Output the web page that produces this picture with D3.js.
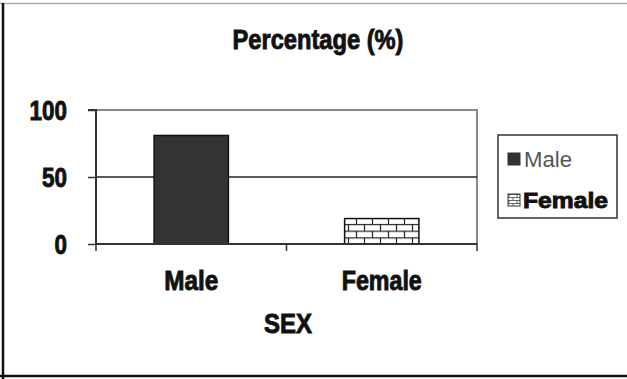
<!DOCTYPE html>
<html>
<head>
<meta charset="utf-8">
<script src="https://cdn.jsdelivr.net/npm/d3@7"></script>
<style>
  html, body { margin: 0; padding: 0; background: #fff; }
  svg { display: block; }
  text { font-family: "Liberation Sans", Arial, sans-serif; }
</style>
</head>
<body>
<svg id="chart" width="627" height="379"></svg>
<script>
// Sex distribution of respondents, in percent
const categories = ["Male", "Female"];
const values = [81, 19];
const yTicks = [0, 50, 100];
const chartTitle = "Percentage (%)";
const xTitle = "SEX";

const svg = d3.select("#chart");
const W = 627, H = 379;
const margin = { left: 96, right: 150, top: 110, bottom: 135 };
const plotW = W - margin.left - margin.right;   // 381
const plotH = H - margin.top - margin.bottom;   // 134

// Narrow heavy lettering: fix each label's width and thicken the strokes
function condensed(sel, widthFn, fill) {
  sel.attr("textLength", widthFn)
    .attr("lengthAdjust", "spacingAndGlyphs")
    .attr("font-weight", "bold")
    .attr("fill", fill)
    .attr("stroke", fill)
    .attr("stroke-width", 0.9);
}

// Outer frame
svg.append("line").attr("x1", 0).attr("x2", W).attr("y1", 3.5).attr("y2", 3.5)
  .attr("stroke", "#aaa").attr("stroke-width", 1.5);
svg.append("line").attr("x1", 3).attr("x2", 3).attr("y1", 3).attr("y2", H)
  .attr("stroke", "#111").attr("stroke-width", 2.5);
svg.append("line").attr("x1", 0).attr("x2", W).attr("y1", 376).attr("y2", 376)
  .attr("stroke", "#111").attr("stroke-width", 2.5);

// Brick fill for the second series
const defs = svg.append("defs");
const brick = defs.append("pattern").attr("id", "brick")
  .attr("patternUnits", "userSpaceOnUse").attr("width", 16).attr("height", 13.4)
  .attr("x", 0).attr("y", 0);
brick.append("rect").attr("width", 16).attr("height", 13.4).attr("fill", "#fff");
brick.append("path")
  .attr("d", "M0,0.5H16M0,7.2H16M4.5,0V7.2M12.5,7.2V13.4")
  .attr("stroke", "#222").attr("stroke-width", 1.2).attr("fill", "none");
const brickSmall = defs.append("pattern").attr("id", "brickSmall")
  .attr("patternUnits", "userSpaceOnUse").attr("width", 8).attr("height", 6)
  .attr("x", 0).attr("y", 0);
brickSmall.append("rect").attr("width", 8).attr("height", 6).attr("fill", "#fff");
brickSmall.append("path")
  .attr("d", "M0,0.5H8M0,3.5H8M3,0V3.5M7,3.5V6")
  .attr("stroke", "#444").attr("stroke-width", 0.8).attr("fill", "none");

const g = svg.append("g").attr("transform", `translate(${margin.left},${margin.top})`);

const x = d3.scaleBand().domain(categories).range([0, plotW]).paddingInner(0.61).paddingOuter(0.305);
const y = d3.scaleLinear().domain([0, 100]).range([plotH, 0]);

// Plot area border (top and right), grey
g.append("path")
  .attr("d", `M0,${y(100)}H${plotW}V${y(0)}`)
  .attr("fill", "none").attr("stroke", "#888").attr("stroke-width", 2);

// Gridline at 50
g.append("line").attr("x1", 0).attr("x2", plotW)
  .attr("y1", y(50)).attr("y2", y(50))
  .attr("stroke", "#222").attr("stroke-width", 1.5);

// Bars
const fills = ["#333333", "url(#brick)"];
g.selectAll("rect.bar").data(values).join("rect")
  .attr("class", "bar")
  .attr("x", (d, i) => x(categories[i]))
  .attr("y", d => y(d))
  .attr("width", x.bandwidth())
  .attr("height", d => y(0) - y(d))
  .attr("fill", (d, i) => fills[i])
  .attr("stroke", "#111").attr("stroke-width", 1.5);

// Y axis
const yAxis = g.append("g").call(
  d3.axisLeft(y).tickValues(yTicks).tickSize(8).tickPadding(21).tickFormat(d3.format("d"))
);
yAxis.select(".domain").attr("stroke", "#333").attr("stroke-width", 2).attr("d", `M-8,${y(100)}H0V${y(0)}`);
yAxis.selectAll(".tick line").attr("stroke", "#333").attr("stroke-width", 1.5);
yAxis.selectAll(".tick text")
  .attr("font-size", 27)
  .attr("font-family", "'Liberation Sans', Arial, sans-serif")
  .attr("dy", "0.36em")
  .call(condensed, d => String(d).length * 12.5, "#111");

// X axis baseline with ticks at band boundaries
const boundaries = [0, plotW / 2, plotW];
g.append("line").attr("x1", 0).attr("x2", plotW).attr("y1", y(0)).attr("y2", y(0))
  .attr("stroke", "#333").attr("stroke-width", 2);
g.selectAll("line.xtick").data(boundaries).join("line")
  .attr("class", "xtick")
  .attr("x1", d => d).attr("x2", d => d)
  .attr("y1", y(0)).attr("y2", y(0) + 7)
  .attr("stroke", "#333").attr("stroke-width", 1.5);

// Category labels
const catWidths = { Male: 54, Female: 80 };
g.selectAll("text.xlab").data(categories).join("text")
  .attr("class", "xlab")
  .attr("x", d => x(d) + x.bandwidth() / 2)
  .attr("y", 290 - margin.top)
  .attr("text-anchor", "middle")
  .attr("font-size", 27)
  .call(condensed, d => catWidths[d], "#111")
  .text(d => d);

// Axis title
svg.append("text")
  .attr("x", 288).attr("y", 333)
  .attr("text-anchor", "middle")
  .attr("font-size", 27)
  .call(condensed, 48, "#111")
  .text(xTitle);

// Chart title
svg.append("text")
  .attr("x", 318).attr("y", 49)
  .attr("text-anchor", "middle")
  .attr("font-size", 27)
  .call(condensed, 171, "#111")
  .text(chartTitle);

// Legend
const lg = svg.append("g").attr("transform", "translate(498,135)");
lg.append("rect").attr("x", 0).attr("y", 0).attr("width", 119).attr("height", 83)
  .attr("fill", "#fff").attr("stroke", "#333").attr("stroke-width", 1.5);
const legendFills = ["#333333", "url(#brickSmall)"];
const legendRows = lg.selectAll("g.row").data(categories).join("g")
  .attr("class", "row")
  .attr("transform", (d, i) => `translate(0,${i === 0 ? 24 : 65})`);
legendRows.append("rect")
  .attr("x", 10).attr("y", -6).attr("width", 12).attr("height", 12)
  .attr("fill", (d, i) => legendFills[i])
  .attr("stroke", "#333").attr("stroke-width", 1);
legendRows.append("text")
  .attr("x", (d, i) => i === 0 ? 26 : 25).attr("y", 0).attr("dy", "0.36em")
  .attr("font-size", 22)
  .each(function (d, i) {
    const t = d3.select(this);
    if (i === 0) {
      t.attr("font-weight", "normal").attr("fill", "#555")
        .attr("textLength", 48).attr("lengthAdjust", "spacingAndGlyphs");
    } else {
      t.call(condensed, 85, "#111");
    }
  })
  .text(d => d);
</script>
</body>
</html>
